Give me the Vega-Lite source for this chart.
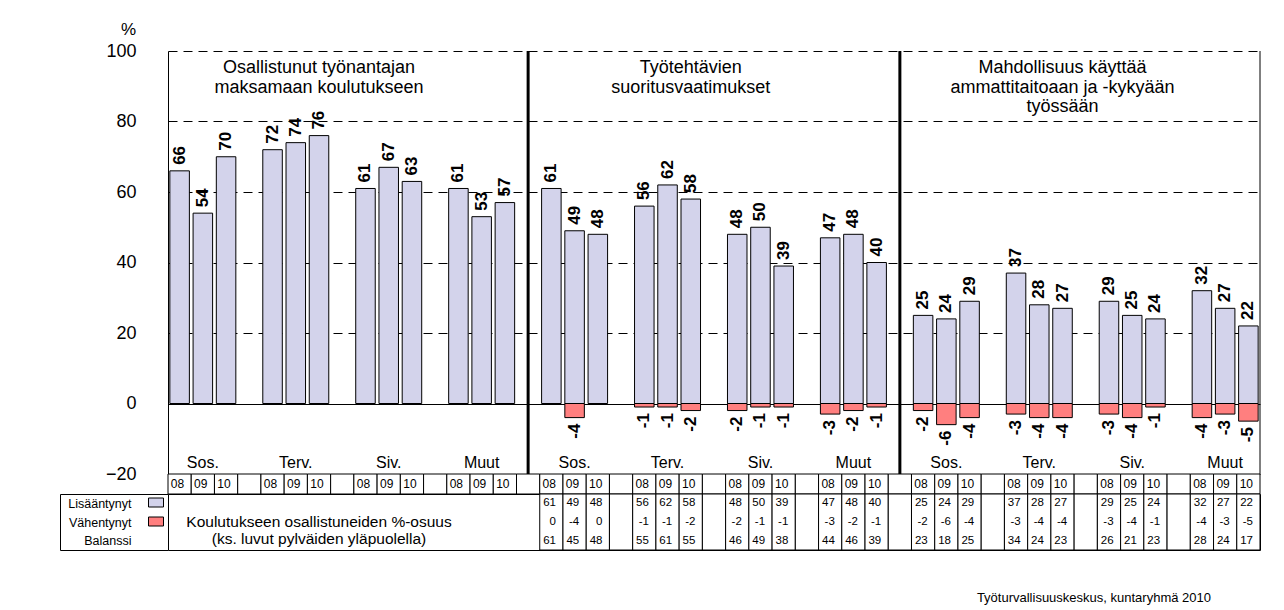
{
  "$schema": "https://vega.github.io/schema/vega-lite/v6.json",
  "background": "white",
  "padding": {"left": 59, "top": 20, "right": 24, "bottom": 6},
  "bounds": "flush",
  "spacing": 0,
  "resolve": {"scale": {"x": "shared"}},
  "title": {"text": "Työturvallisuuskeskus, kuntaryhmä 2010", "orient": "bottom", "anchor": "end", "frame": "bounds", "offset": 51, "dx": -50, "baseline": "alphabetic", "fontSize": 13, "fontWeight": "normal", "font": "Liberation Sans", "color": "black"},
  "config": {
    "font": "Liberation Sans",
    "view": {"stroke": null},
    "axis": {"labelFont": "Liberation Sans", "titleFont": "Liberation Sans", "labelColor": "black", "titleColor": "black"},
    "text": {"font": "Liberation Sans", "color": "black"}
  },
  "datasets": {
    "titles": [
      {"panel": "P1", "title": ["Osallistunut työnantajan", "maksamaan koulutukseen"], "note": ["Koulutukseen osallistuneiden %-osuus", "(ks. luvut pylväiden yläpuolella)"]},
      {"panel": "P2", "title": ["Työtehtävien", "suoritusvaatimukset"]},
      {"panel": "P3", "title": ["Mahdollisuus käyttää", "ammattitaitoaan ja -kykyään", "työssään"]}
    ],
    "main": [
      {"panel": "P1", "group": "Sos.", "year": "08", "key": "P1 Sos. 08", "Lisääntynyt": 66},
      {"panel": "P1", "group": "Sos.", "year": "09", "key": "P1 Sos. 09", "Lisääntynyt": 54},
      {"panel": "P1", "group": "Sos.", "year": "10", "key": "P1 Sos. 10", "Lisääntynyt": 70},
      {"panel": "P1", "group": "Sos.", "year": "", "key": "P1 Sos. -"},
      {"panel": "P1", "group": "Terv.", "year": "08", "key": "P1 Terv. 08", "Lisääntynyt": 72},
      {"panel": "P1", "group": "Terv.", "year": "09", "key": "P1 Terv. 09", "Lisääntynyt": 74},
      {"panel": "P1", "group": "Terv.", "year": "10", "key": "P1 Terv. 10", "Lisääntynyt": 76},
      {"panel": "P1", "group": "Terv.", "year": "", "key": "P1 Terv. -"},
      {"panel": "P1", "group": "Siv.", "year": "08", "key": "P1 Siv. 08", "Lisääntynyt": 61},
      {"panel": "P1", "group": "Siv.", "year": "09", "key": "P1 Siv. 09", "Lisääntynyt": 67},
      {"panel": "P1", "group": "Siv.", "year": "10", "key": "P1 Siv. 10", "Lisääntynyt": 63},
      {"panel": "P1", "group": "Siv.", "year": "", "key": "P1 Siv. -"},
      {"panel": "P1", "group": "Muut", "year": "08", "key": "P1 Muut 08", "Lisääntynyt": 61},
      {"panel": "P1", "group": "Muut", "year": "09", "key": "P1 Muut 09", "Lisääntynyt": 53},
      {"panel": "P1", "group": "Muut", "year": "10", "key": "P1 Muut 10", "Lisääntynyt": 57},
      {"panel": "P1", "group": "Muut", "year": "", "key": "P1 Muut -"},
      {"panel": "P2", "group": "Sos.", "year": "08", "key": "P2 Sos. 08", "Lisääntynyt": 61, "Vähentynyt": 0, "Balanssi": 61},
      {"panel": "P2", "group": "Sos.", "year": "09", "key": "P2 Sos. 09", "Lisääntynyt": 49, "Vähentynyt": -4, "Balanssi": 45},
      {"panel": "P2", "group": "Sos.", "year": "10", "key": "P2 Sos. 10", "Lisääntynyt": 48, "Vähentynyt": 0, "Balanssi": 48},
      {"panel": "P2", "group": "Sos.", "year": "", "key": "P2 Sos. -"},
      {"panel": "P2", "group": "Terv.", "year": "08", "key": "P2 Terv. 08", "Lisääntynyt": 56, "Vähentynyt": -1, "Balanssi": 55},
      {"panel": "P2", "group": "Terv.", "year": "09", "key": "P2 Terv. 09", "Lisääntynyt": 62, "Vähentynyt": -1, "Balanssi": 61},
      {"panel": "P2", "group": "Terv.", "year": "10", "key": "P2 Terv. 10", "Lisääntynyt": 58, "Vähentynyt": -2, "Balanssi": 55},
      {"panel": "P2", "group": "Terv.", "year": "", "key": "P2 Terv. -"},
      {"panel": "P2", "group": "Siv.", "year": "08", "key": "P2 Siv. 08", "Lisääntynyt": 48, "Vähentynyt": -2, "Balanssi": 46},
      {"panel": "P2", "group": "Siv.", "year": "09", "key": "P2 Siv. 09", "Lisääntynyt": 50, "Vähentynyt": -1, "Balanssi": 49},
      {"panel": "P2", "group": "Siv.", "year": "10", "key": "P2 Siv. 10", "Lisääntynyt": 39, "Vähentynyt": -1, "Balanssi": 38},
      {"panel": "P2", "group": "Siv.", "year": "", "key": "P2 Siv. -"},
      {"panel": "P2", "group": "Muut", "year": "08", "key": "P2 Muut 08", "Lisääntynyt": 47, "Vähentynyt": -3, "Balanssi": 44},
      {"panel": "P2", "group": "Muut", "year": "09", "key": "P2 Muut 09", "Lisääntynyt": 48, "Vähentynyt": -2, "Balanssi": 46},
      {"panel": "P2", "group": "Muut", "year": "10", "key": "P2 Muut 10", "Lisääntynyt": 40, "Vähentynyt": -1, "Balanssi": 39},
      {"panel": "P2", "group": "Muut", "year": "", "key": "P2 Muut -"},
      {"panel": "P3", "group": "Sos.", "year": "08", "key": "P3 Sos. 08", "Lisääntynyt": 25, "Vähentynyt": -2, "Balanssi": 23},
      {"panel": "P3", "group": "Sos.", "year": "09", "key": "P3 Sos. 09", "Lisääntynyt": 24, "Vähentynyt": -6, "Balanssi": 18},
      {"panel": "P3", "group": "Sos.", "year": "10", "key": "P3 Sos. 10", "Lisääntynyt": 29, "Vähentynyt": -4, "Balanssi": 25},
      {"panel": "P3", "group": "Sos.", "year": "", "key": "P3 Sos. -"},
      {"panel": "P3", "group": "Terv.", "year": "08", "key": "P3 Terv. 08", "Lisääntynyt": 37, "Vähentynyt": -3, "Balanssi": 34},
      {"panel": "P3", "group": "Terv.", "year": "09", "key": "P3 Terv. 09", "Lisääntynyt": 28, "Vähentynyt": -4, "Balanssi": 24},
      {"panel": "P3", "group": "Terv.", "year": "10", "key": "P3 Terv. 10", "Lisääntynyt": 27, "Vähentynyt": -4, "Balanssi": 23},
      {"panel": "P3", "group": "Terv.", "year": "", "key": "P3 Terv. -"},
      {"panel": "P3", "group": "Siv.", "year": "08", "key": "P3 Siv. 08", "Lisääntynyt": 29, "Vähentynyt": -3, "Balanssi": 26},
      {"panel": "P3", "group": "Siv.", "year": "09", "key": "P3 Siv. 09", "Lisääntynyt": 25, "Vähentynyt": -4, "Balanssi": 21},
      {"panel": "P3", "group": "Siv.", "year": "10", "key": "P3 Siv. 10", "Lisääntynyt": 24, "Vähentynyt": -1, "Balanssi": 23},
      {"panel": "P3", "group": "Siv.", "year": "", "key": "P3 Siv. -"},
      {"panel": "P3", "group": "Muut", "year": "08", "key": "P3 Muut 08", "Lisääntynyt": 32, "Vähentynyt": -4, "Balanssi": 28},
      {"panel": "P3", "group": "Muut", "year": "09", "key": "P3 Muut 09", "Lisääntynyt": 27, "Vähentynyt": -3, "Balanssi": 24},
      {"panel": "P3", "group": "Muut", "year": "10", "key": "P3 Muut 10", "Lisääntynyt": 22, "Vähentynyt": -5, "Balanssi": 17}
    ]
  },
  "data": {"name": "main"},
  "vconcat": [
    {
      "width": 1092,
      "height": 423,
      "layer": [
        {
          "transform": [
            {"fold": ["Lisääntynyt", "Vähentynyt"], "as": ["type", "value"]},
            {"filter": "isValid(datum.value) && datum.value != 0"}
          ],
          "mark": {"type": "bar", "stroke": "black", "strokeWidth": 1, "width": {"band": 0.84}},
          "encoding": {
            "x": {
              "field": "key", "type": "nominal", "axis": null,
              "scale": {
                "type": "band", "paddingInner": 0, "paddingOuter": 0,
                "domain": ["P1 Sos. 08", "P1 Sos. 09", "P1 Sos. 10", "P1 Sos. -", "P1 Terv. 08", "P1 Terv. 09", "P1 Terv. 10", "P1 Terv. -", "P1 Siv. 08", "P1 Siv. 09", "P1 Siv. 10", "P1 Siv. -", "P1 Muut 08", "P1 Muut 09", "P1 Muut 10", "P1 Muut -",
                           "P2 Sos. 08", "P2 Sos. 09", "P2 Sos. 10", "P2 Sos. -", "P2 Terv. 08", "P2 Terv. 09", "P2 Terv. 10", "P2 Terv. -", "P2 Siv. 08", "P2 Siv. 09", "P2 Siv. 10", "P2 Siv. -", "P2 Muut 08", "P2 Muut 09", "P2 Muut 10", "P2 Muut -",
                           "P3 Sos. 08", "P3 Sos. 09", "P3 Sos. 10", "P3 Sos. -", "P3 Terv. 08", "P3 Terv. 09", "P3 Terv. 10", "P3 Terv. -", "P3 Siv. 08", "P3 Siv. 09", "P3 Siv. 10", "P3 Siv. -", "P3 Muut 08", "P3 Muut 09", "P3 Muut 10"]
              }
            },
            "y": {
              "field": "value", "type": "quantitative", "stack": null,
              "scale": {"domain": [-20, 100], "nice": false, "zero": false},
              "axis": {
                "values": [-20, 0, 20, 40, 60, 80, 100],
                "title": "%", "titleAngle": 0, "titleX": -40, "titleY": -17, "titleAlign": "center", "titleBaseline": "alphabetic",
                "titleFontSize": 17, "titleFontWeight": "normal",
                "labelFontSize": 18, "labelPadding": 32,
                "ticks": false, "domain": true, "domainColor": "black", "domainWidth": 1,
                "grid": true, "gridColor": "black", "gridOpacity": 1, "gridWidth": 1,
                "gridDash": {"condition": {"test": "datum.value === 0 || datum.value === -20", "value": []}, "value": [9, 6]}
              }
            },
            "color": {
              "field": "type", "type": "nominal",
              "scale": {"domain": ["Lisääntynyt", "Vähentynyt"], "range": ["#D3D3EB", "#FF7F7F"]},
              "legend": {
                "orient": "none", "legendX": -20, "legendY": 443.5, "title": null,
                "labelExpr": "''", "labelFontSize": 1, "labelOffset": 0, "padding": 0,
                "symbolType": "M-1,-0.6H1V0.6H-1Z", "symbolSize": 225,
                "symbolStrokeColor": "black", "symbolStrokeWidth": 1, "symbolOpacity": 1, "rowPadding": 4
              }
            }
          }
        },
        {
          "transform": [
            {"fold": ["Lisääntynyt", "Vähentynyt"], "as": ["type", "value"]},
            {"filter": "isValid(datum.value) && datum.value > 0"}
          ],
          "mark": {"type": "text", "angle": 270, "align": "left", "baseline": "middle", "dx": 6, "fontSize": 17, "fontWeight": "bold"},
          "encoding": {
            "x": {"field": "key", "type": "nominal", "axis": null},
            "y": {"field": "value", "type": "quantitative"},
            "text": {"field": "value", "type": "nominal"}
          }
        },
        {
          "transform": [
            {"fold": ["Lisääntynyt", "Vähentynyt"], "as": ["type", "value"]},
            {"filter": "isValid(datum.value) && datum.value < 0"}
          ],
          "mark": {"type": "text", "angle": 270, "align": "right", "baseline": "middle", "dx": -6, "fontSize": 17, "fontWeight": "bold"},
          "encoding": {
            "x": {"field": "key", "type": "nominal", "axis": null},
            "y": {"field": "value", "type": "quantitative"},
            "text": {"field": "value", "type": "nominal"}
          }
        },
        {
          "transform": [{"filter": "datum.year == '09'"}],
          "mark": {"type": "text", "align": "center", "baseline": "alphabetic", "dy": -6, "fontSize": 16},
          "encoding": {
            "x": {"field": "key", "type": "nominal", "axis": null},
            "y": {"datum": -20, "type": "quantitative"},
            "text": {"field": "group", "type": "nominal"}
          }
        },
        {
          "transform": [
            {"filter": "datum.group == 'Terv.' && datum.year == '10'"},
            {"lookup": "panel", "from": {"data": {"name": "titles"}, "key": "panel", "fields": ["title"]}}
          ],
          "mark": {"type": "text", "align": "center", "baseline": "alphabetic", "dy": 22.4, "fontSize": 18, "lineHeight": 19.5},
          "encoding": {
            "x": {"field": "key", "type": "nominal", "axis": null},
            "y": {"datum": 100, "type": "quantitative"},
            "text": {"field": "title", "type": "nominal"}
          }
        },
        {
          "transform": [{"filter": "datum.year == '' && datum.group == 'Muut'"}],
          "mark": {"type": "rule", "strokeWidth": 3, "color": "black"},
          "encoding": {
            "x": {"field": "key", "type": "nominal", "bandPosition": 0.5, "axis": null},
            "y": {"datum": 100, "type": "quantitative"},
            "y2": {"datum": -20}
          }
        },
        {
          "transform": [{"filter": "datum.key == 'P3 Muut 10'"}],
          "mark": {"type": "rule", "strokeWidth": 1, "color": "black"},
          "encoding": {
            "x": {"field": "key", "type": "nominal", "bandPosition": 1, "axis": null},
            "y": {"datum": 100, "type": "quantitative"},
            "y2": {"datum": -20}
          }
        }
      ]
    },
    {
      "width": 1092,
      "height": 20,
      "layer": [
        {
          "mark": {"type": "rect", "fill": "white", "stroke": "black", "strokeWidth": 1},
          "encoding": {"x": {"field": "key", "type": "nominal", "axis": null}}
        },
        {
          "transform": [{"filter": "datum.year != ''"}],
          "mark": {"type": "text", "align": "right", "baseline": "middle", "dx": -7, "fontSize": 12},
          "encoding": {
            "x": {"field": "key", "type": "nominal", "bandPosition": 1, "axis": null},
            "text": {"field": "year", "type": "nominal"}
          }
        }
      ]
    },
    {
      "width": 1092,
      "height": 56,
      "view": {"stroke": "black", "strokeWidth": 1},
      "layer": [
        {
          "transform": [{"filter": "datum.panel != 'P1'"}],
          "mark": {"type": "rect", "fill": "white", "stroke": "black", "strokeWidth": 1},
          "encoding": {"x": {"field": "key", "type": "nominal", "axis": null}}
        },
        {
          "transform": [
            {"filter": "datum.panel != 'P1'"},
            {"fold": ["Lisääntynyt", "Vähentynyt", "Balanssi"], "as": ["row", "value"]},
            {"filter": "isValid(datum.value)"}
          ],
          "mark": {"type": "text", "align": "right", "baseline": "middle", "dx": -7, "fontSize": 11.5},
          "encoding": {
            "x": {"field": "key", "type": "nominal", "bandPosition": 1, "axis": null},
            "y": {
              "field": "row", "type": "nominal",
              "scale": {"type": "band", "domain": ["Lisääntynyt", "Vähentynyt", "Balanssi"], "paddingInner": 0, "paddingOuter": 0},
              "axis": {
                "title": null, "orient": "left", "offset": 108,
                "domain": true, "domainColor": "black", "domainWidth": 1,
                "ticks": true, "tickBand": "extent", "tickSize": -108, "tickColor": "black", "tickWidth": 1,
                "tickOpacity": {"condition": {"test": "datum.value === 'Lisääntynyt' || datum.value === 'Vähentynyt'", "value": 0}, "value": 1},
                "labelPadding": 37, "labelFontSize": 12.5, "labelAlign": "right", "grid": false
              }
            },
            "text": {"field": "value", "type": "nominal"}
          }
        },
        {
          "transform": [
            {"filter": "datum.panel == 'P1' && datum.group == 'Terv.' && datum.year == '10'"},
            {"lookup": "panel", "from": {"data": {"name": "titles"}, "key": "panel", "fields": ["note"]}}
          ],
          "mark": {"type": "text", "align": "center", "baseline": "middle", "fontSize": 15.5, "lineHeight": 17},
          "encoding": {
            "x": {"field": "key", "type": "nominal", "axis": null},
            "text": {"field": "note", "type": "nominal"}
          }
        }
      ]
    }
  ]
}
